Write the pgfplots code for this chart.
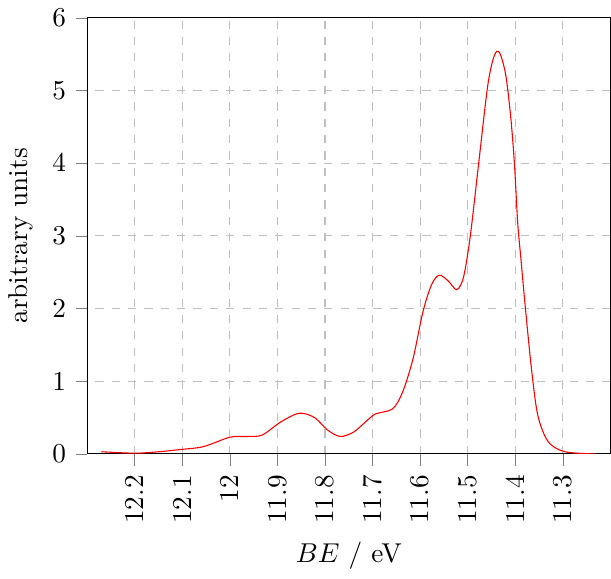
\documentclass[border=0pt]{standalone}
\usepackage{pgfplots}
\pgfplotsset{compat=1.18}
\begin{document}
\begin{tikzpicture}
\begin{axis}[
  scale only axis,
  width=192pt, height=160pt,
  x dir=reverse,
  xmin=11.2, xmax=12.3,
  ymin=0, ymax=6,
  xtick={11.3,11.4,11.5,11.6,11.7,11.8,11.9,12,12.1,12.2},
  xticklabel style={rotate=90, anchor=east},
  xticklabels={11.3,11.4,11.5,11.6,11.7,11.8,11.9,12,12.1,12.2},
  ytick={0,1,...,6},
  tick align=outside,
  tick pos=left,
  grid=major,
  major grid style={dashed, gray!50},
  xlabel={$BE$ / eV},
  ylabel={arbitrary units},
]
\addplot[red, smooth] coordinates {
  (12.27,0.03) (12.20,0.01) (12.15,0.03) (12.105,0.06) (12.056,0.10)
  (12.0,0.23) (11.964,0.24) (11.932,0.26) (11.893,0.44) (11.854,0.56)
  (11.822,0.50) (11.795,0.33) (11.768,0.24) (11.740,0.30) (11.715,0.44)
  (11.694,0.55) (11.658,0.62) (11.637,0.85) (11.615,1.31) (11.594,1.96)
  (11.576,2.33) (11.560,2.46) (11.541,2.38) (11.523,2.26) (11.509,2.43)
  (11.495,2.98) (11.477,4.0) (11.459,5.02) (11.448,5.40) (11.439,5.54)
  (11.431,5.49) (11.420,5.21) (11.410,4.66) (11.402,4.01) (11.395,3.18)
  (11.388,2.67) (11.381,2.16) (11.367,1.23) (11.353,0.54)
  (11.331,0.17) (11.296,0.03) (11.232,0.0)
};
\end{axis}
\end{tikzpicture}
\end{document}
